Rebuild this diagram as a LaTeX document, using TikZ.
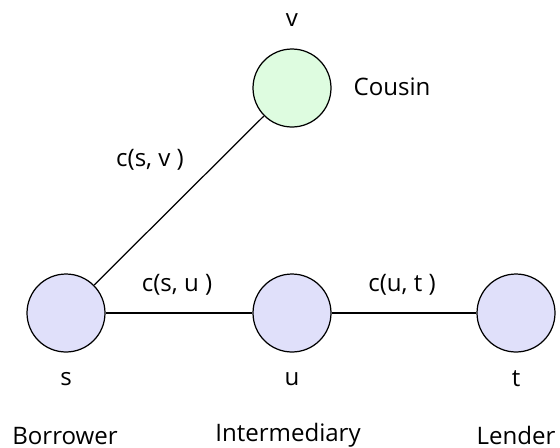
\documentclass[tikz,border=0pt]{standalone}
\usepackage{fontspec}
\setmainfont{Open Sans}
\usetikzlibrary{positioning}
\definecolor{cousinGreen}{HTML}{DEFCE0}
\definecolor{nodeLilac}{HTML}{E0E0FA}
\tikzset{
    vertex/.style={circle,draw=black,line width=0.7pt,fill=nodeLilac,
        minimum size=1.56cm,inner sep=0pt},
    cousinvertex/.style={vertex,fill=cousinGreen},
    edge/.style={draw=black,line width=0.7pt},
    lbl/.style={font=\fontsize{13.7}{16}\selectfont,inner sep=0pt,anchor=base}
}
\begin{document}
\begin{tikzpicture}[x=0.02cm,y=-0.02cm]
            \useasboundingbox (0,0) rectangle (560,447);

            \node[cousinvertex] (v) at (292,88) {};
            \node[vertex] (s) at (66,313) {};
            \node[vertex] (u) at (292,313) {};
            \node[vertex] (t) at (516,313) {};

            \draw[edge] (s) -- (v);
            \draw[edge] (s) -- (u);
            \draw[edge] (u) -- (t);

            \node[lbl] (vname) at (292,26) {v};
            \node[lbl] (cousin) at (392,95) {Cousin};
            \node[lbl] (csv) at (150,166) {c(s, v )};
            \node[lbl] (csu) at (177,291) {c(s, u )};
            \node[lbl] (cut) at (402,291) {c(u, t )};

            \node[lbl] (sname) at (66,385) {s};
            \node[lbl] (uname) at (292,385) {u};
            \node[lbl] (tname) at (516,386) {t};

            \node[lbl] (borrower) at (65,444) {Borrower};
            \node[lbl] (inter) at (288,441) {Intermediary};
            \node[lbl] (lender) at (516,444) {Lender};
        \end{tikzpicture}
\end{document}
